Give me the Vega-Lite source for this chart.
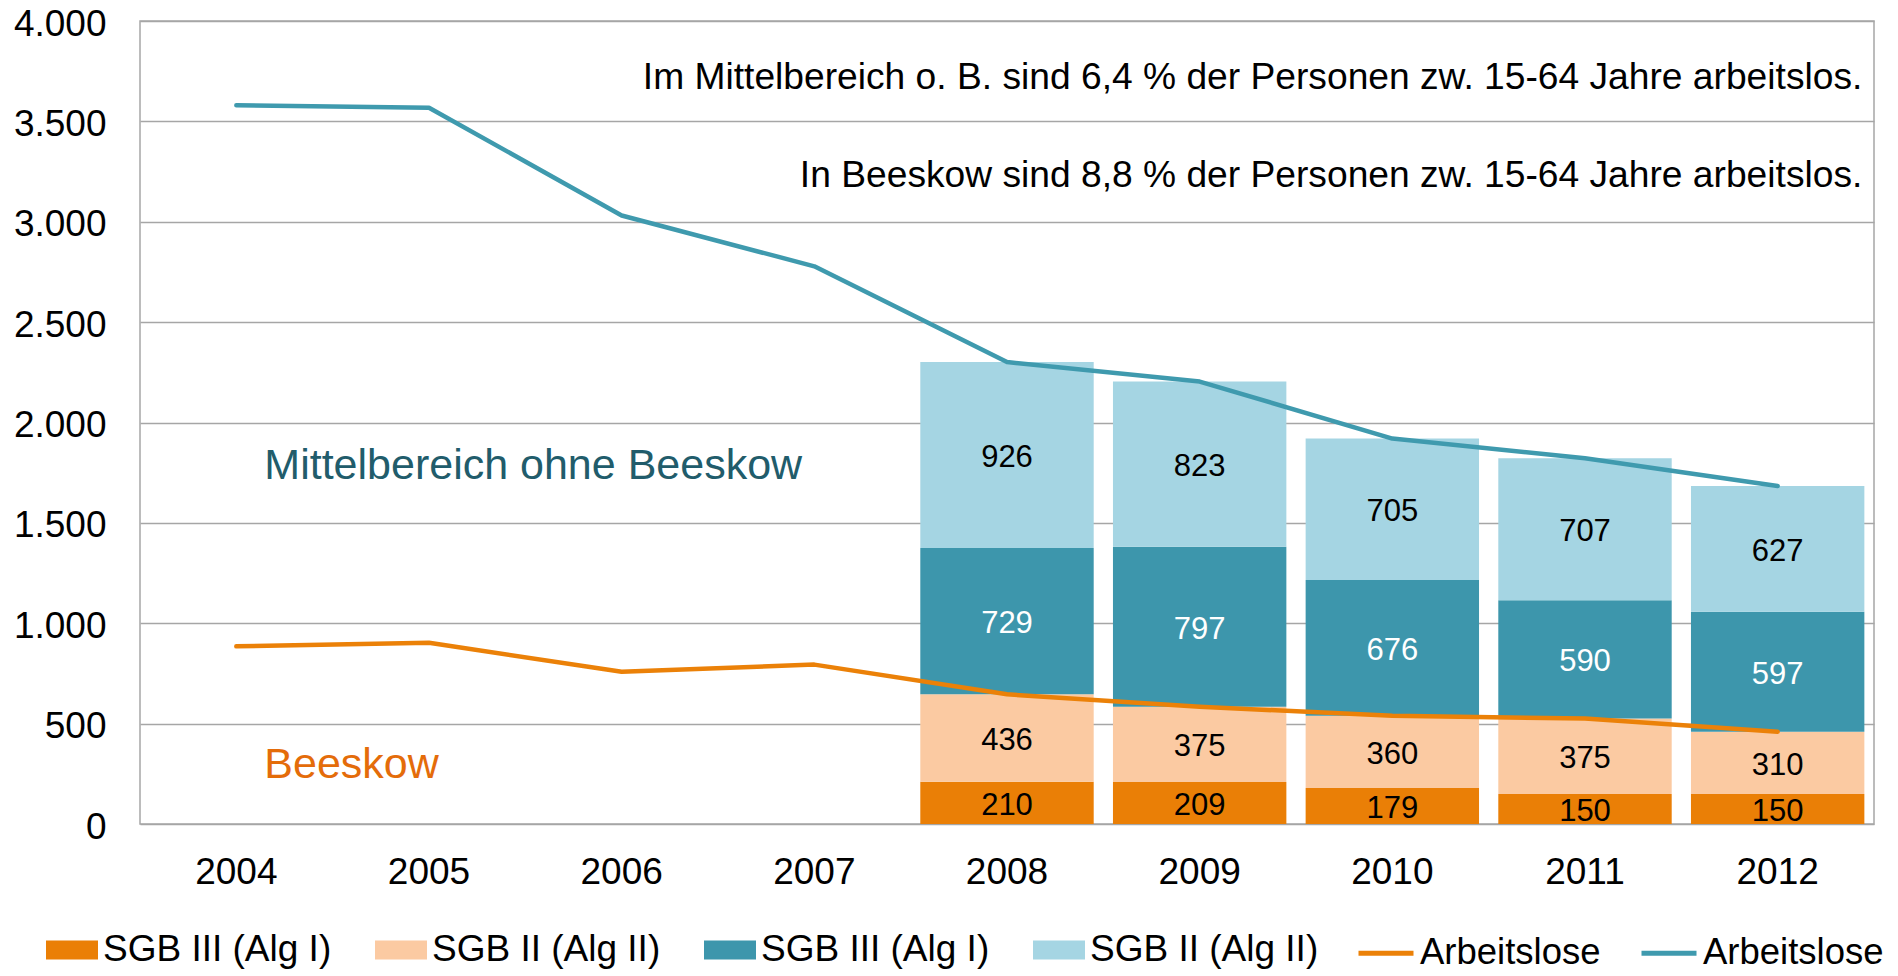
{
  "$schema": "https://vega.github.io/schema/vega-lite/v6.json",
  "width": 1734,
  "height": 803,
  "autosize": {"type": "none"},
  "padding": {"left": 140, "top": 21, "right": 24, "bottom": 152},
  "background": "white",
  "config": {
    "font": "Liberation Sans",
    "view": {"stroke": "#A6A6A6", "strokeWidth": 1.5},
    "axis": {"labelFont": "Liberation Sans", "labelColor": "black", "labelFontSize": 37, "ticks": false, "domain": false, "title": null}
  },
  "datasets": {
    "balken": [
      {"jahr": "2008", "reihe": "SGB III (Alg I) – Beeskow", "rang": 1, "wert": 210},
      {"jahr": "2008", "reihe": "SGB II (Alg II) – Beeskow", "rang": 2, "wert": 436},
      {"jahr": "2008", "reihe": "SGB III (Alg I) – Mittelbereich o. B.", "rang": 3, "wert": 729},
      {"jahr": "2008", "reihe": "SGB II (Alg II) – Mittelbereich o. B.", "rang": 4, "wert": 926},
      {"jahr": "2009", "reihe": "SGB III (Alg I) – Beeskow", "rang": 1, "wert": 209},
      {"jahr": "2009", "reihe": "SGB II (Alg II) – Beeskow", "rang": 2, "wert": 375},
      {"jahr": "2009", "reihe": "SGB III (Alg I) – Mittelbereich o. B.", "rang": 3, "wert": 797},
      {"jahr": "2009", "reihe": "SGB II (Alg II) – Mittelbereich o. B.", "rang": 4, "wert": 823},
      {"jahr": "2010", "reihe": "SGB III (Alg I) – Beeskow", "rang": 1, "wert": 179},
      {"jahr": "2010", "reihe": "SGB II (Alg II) – Beeskow", "rang": 2, "wert": 360},
      {"jahr": "2010", "reihe": "SGB III (Alg I) – Mittelbereich o. B.", "rang": 3, "wert": 676},
      {"jahr": "2010", "reihe": "SGB II (Alg II) – Mittelbereich o. B.", "rang": 4, "wert": 705},
      {"jahr": "2011", "reihe": "SGB III (Alg I) – Beeskow", "rang": 1, "wert": 150},
      {"jahr": "2011", "reihe": "SGB II (Alg II) – Beeskow", "rang": 2, "wert": 375},
      {"jahr": "2011", "reihe": "SGB III (Alg I) – Mittelbereich o. B.", "rang": 3, "wert": 590},
      {"jahr": "2011", "reihe": "SGB II (Alg II) – Mittelbereich o. B.", "rang": 4, "wert": 707},
      {"jahr": "2012", "reihe": "SGB III (Alg I) – Beeskow", "rang": 1, "wert": 150},
      {"jahr": "2012", "reihe": "SGB II (Alg II) – Beeskow", "rang": 2, "wert": 310},
      {"jahr": "2012", "reihe": "SGB III (Alg I) – Mittelbereich o. B.", "rang": 3, "wert": 597},
      {"jahr": "2012", "reihe": "SGB II (Alg II) – Mittelbereich o. B.", "rang": 4, "wert": 627}
    ],
    "linien": [
      {"jahr": "2004", "reihe": "Arbeitslose – Beeskow", "wert": 885},
      {"jahr": "2005", "reihe": "Arbeitslose – Beeskow", "wert": 903},
      {"jahr": "2006", "reihe": "Arbeitslose – Beeskow", "wert": 758},
      {"jahr": "2007", "reihe": "Arbeitslose – Beeskow", "wert": 794},
      {"jahr": "2008", "reihe": "Arbeitslose – Beeskow", "wert": 646},
      {"jahr": "2009", "reihe": "Arbeitslose – Beeskow", "wert": 584},
      {"jahr": "2010", "reihe": "Arbeitslose – Beeskow", "wert": 539},
      {"jahr": "2011", "reihe": "Arbeitslose – Beeskow", "wert": 525},
      {"jahr": "2012", "reihe": "Arbeitslose – Beeskow", "wert": 460},
      {"jahr": "2004", "reihe": "Arbeitslose – Mittelbereich o. B.", "wert": 3580},
      {"jahr": "2005", "reihe": "Arbeitslose – Mittelbereich o. B.", "wert": 3568},
      {"jahr": "2006", "reihe": "Arbeitslose – Mittelbereich o. B.", "wert": 3031},
      {"jahr": "2007", "reihe": "Arbeitslose – Mittelbereich o. B.", "wert": 2778},
      {"jahr": "2008", "reihe": "Arbeitslose – Mittelbereich o. B.", "wert": 2301},
      {"jahr": "2009", "reihe": "Arbeitslose – Mittelbereich o. B.", "wert": 2204},
      {"jahr": "2010", "reihe": "Arbeitslose – Mittelbereich o. B.", "wert": 1920},
      {"jahr": "2011", "reihe": "Arbeitslose – Mittelbereich o. B.", "wert": 1822},
      {"jahr": "2012", "reihe": "Arbeitslose – Mittelbereich o. B.", "wert": 1684}
    ],
    "hinweise": [
      {"jahr": "2012", "wert": 3660, "text": "Im Mittelbereich o. B. sind 6,4 % der Personen zw. 15-64 Jahre arbeitslos."},
      {"jahr": "2012", "wert": 3175, "text": "In Beeskow sind 8,8 % der Personen zw. 15-64 Jahre arbeitslos."}
    ],
    "gebiete": [
      {"jahr": "2004", "wert": 1720, "gebiet": "Mittelbereich ohne Beeskow"},
      {"jahr": "2004", "wert": 229, "gebiet": "Beeskow"}
    ]
  },
  "layer": [
    {
      "data": {"name": "balken"},
      "transform": [
        {"stack": "wert", "groupby": ["jahr"], "sort": [{"field": "rang", "order": "ascending"}], "as": ["unten", "oben"]}
      ],
      "mark": {"type": "bar"},
      "encoding": {
        "x": {"field": "jahr", "type": "nominal", "sort": null,
              "scale": {"domain": ["2004","2005","2006","2007","2008","2009","2010","2011","2012"], "paddingInner": 0.1, "paddingOuter": 0.05},
              "axis": {"labelAngle": 0, "labelPadding": 30, "grid": false}},
        "y": {"field": "oben", "type": "quantitative",
              "scale": {"domain": [0, 4000], "nice": false},
              "axis": {"values": [0,500,1000,1500,2000,2500,3000,3500,4000], "labelPadding": 34, "labelOffset": 3, "grid": true, "gridColor": "#A6A6A6", "gridWidth": 1.5,
                       "labelExpr": "replace(format(datum.value, ','), ',', '.')"}},
        "y2": {"field": "unten"},
        "fill": {"field": "reihe", "type": "nominal",
                 "scale": {"domain": ["SGB III (Alg I) – Beeskow", "SGB II (Alg II) – Beeskow", "SGB III (Alg I) – Mittelbereich o. B.", "SGB II (Alg II) – Mittelbereich o. B."],
                           "range": ["#EA7F06", "#FBCAA2", "#3D96AC", "#A5D5E3"]},
                 "legend": {"orient": "none", "legendX": -94, "legendY": 903, "direction": "horizontal", "title": null,
                            "symbolType": "M-1,-0.365H1V0.365H-1Z", "symbolSize": 2704, "symbolStrokeWidth": 0,
                            "labelFontSize": 37, "labelFont": "Liberation Sans", "labelColor": "black", "labelLimit": 400, "labelOffset": 5,
                            "columnPadding": 43, "padding": 0,
                            "labelExpr": "split(datum.label, ' – ')[0]"}}
      }
    },
    {
      "data": {"name": "balken"},
      "transform": [
        {"stack": "wert", "groupby": ["jahr"], "sort": [{"field": "rang", "order": "ascending"}], "as": ["unten", "oben"]},
        {"calculate": "(datum.unten + datum.oben) / 2", "as": "mitte"}
      ],
      "mark": {"type": "text", "fontSize": 31, "baseline": "middle", "align": "center", "dy": 3},
      "encoding": {
        "x": {"field": "jahr", "type": "nominal"},
        "y": {"field": "mitte", "type": "quantitative"},
        "text": {"field": "wert", "type": "quantitative"},
        "color": {"condition": {"test": "datum.rang === 3", "value": "white"}, "value": "black"}
      }
    },
    {
      "data": {"name": "linien"},
      "mark": {"type": "line", "strokeWidth": 4.5, "strokeCap": "round", "strokeJoin": "round"},
      "encoding": {
        "x": {"field": "jahr", "type": "nominal"},
        "y": {"field": "wert", "type": "quantitative"},
        "stroke": {"field": "reihe", "type": "nominal",
                   "scale": {"domain": ["Arbeitslose – Beeskow", "Arbeitslose – Mittelbereich o. B."], "range": ["#EB8108", "#3F9AAE"]},
                   "legend": {"orient": "none", "legendX": 1216, "legendY": 902, "direction": "horizontal", "title": null,
                              "symbolType": "stroke", "symbolSize": 3025, "symbolStrokeWidth": 5,
                              "labelFontSize": 36.5, "labelFont": "Liberation Sans", "labelColor": "black", "labelLimit": 400, "labelOffset": 4,
                              "columnPadding": 30, "padding": 0,
                              "labelExpr": "split(datum.label, ' – ')[0]"}}
      }
    },
    {
      "data": {"name": "hinweise"},
      "mark": {"type": "text", "fontSize": 37.2, "align": "right", "baseline": "alphabetic", "dx": -2, "color": "black"},
      "encoding": {
        "x": {"field": "jahr", "type": "nominal", "bandPosition": 1},
        "y": {"field": "wert", "type": "quantitative"},
        "text": {"field": "text", "type": "nominal"}
      }
    },
    {
      "data": {"name": "gebiete"},
      "mark": {"type": "text", "fontSize": 43, "align": "left", "baseline": "alphabetic", "dx": 28},
      "encoding": {
        "x": {"field": "jahr", "type": "nominal"},
        "y": {"field": "wert", "type": "quantitative"},
        "text": {"field": "gebiet", "type": "nominal"},
        "color": {"field": "gebiet", "type": "nominal",
                  "scale": {"domain": ["Mittelbereich ohne Beeskow", "Beeskow"], "range": ["#215C6B", "#E46C0A"]},
                  "legend": null}
      }
    }
  ]
}
